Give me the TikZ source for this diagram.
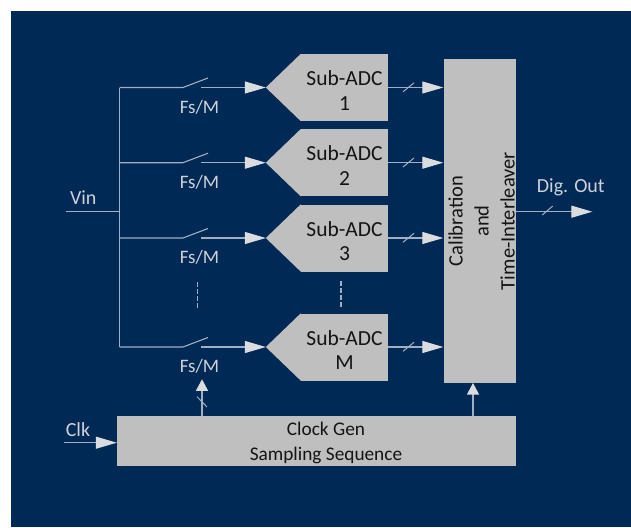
\documentclass[tikz,border=0pt]{standalone}
\usepackage{fontspec}
\setmainfont{Carlito}
\usetikzlibrary{arrows.meta}
\definecolor{navy}{RGB}{1,41,85}
\definecolor{boxgrey}{RGB}{191,191,191}
\definecolor{wirec}{RGB}{160,175,196}
\definecolor{headc}{RGB}{218,220,224}
\definecolor{lblc}{RGB}{205,210,218}
\definecolor{boxtext}{RGB}{20,20,20}
\begin{document}
\begin{tikzpicture}[x=1pt,y=-1pt,
  wire/.style={draw=wirec,line width=1.1pt},
  harrow/.style={wire,-{Triangle[length=21pt,width=12pt,color=headc]}},
  varrow/.style={wire,-{Triangle[length=11.5pt,width=12pt,color=headc]}},
  slash/.style={draw=wirec,line width=1pt},
  dashv/.style={draw=wirec,line width=1.1pt,dash pattern=on 4.5pt off 2.5pt},
  lbl/.style={text=lblc,inner sep=0pt,font=\fontsize{20}{24}\selectfont},
  greybox/.style={fill=boxgrey,draw=none,inner sep=0pt},
  boxlbl/.style={text=boxtext,inner sep=0pt,align=center},
]
\useasboundingbox (0,0) rectangle (631,527);
\fill[navy] (11,11) rectangle (631,527);

% calibration block
\node[greybox,minimum width=72pt,minimum height=324pt] (cal) at (479.5,221) {};
\node[boxlbl,rotate=90,font=\fontsize{20.5}{26}\selectfont] (caltext) at (481.5,221) {Calibration\\and\\Time-Interleaver};

% clock generator
\node[greybox,minimum width=399pt,minimum height=50pt] (clk) at (316.5,441) {};
\node[boxlbl,font=\fontsize{19.3}{25}\selectfont] (clktext) at (326,443.4) {Clock Gen\\Sampling Sequence};

% sub-ADC rows
\foreach \i/\y in {1/87.5,2/162.7,3/238,M/347}{
  \node[greybox,minimum width=87pt,minimum height=67pt] (adc\i) at (344.5,\y) {};
  \fill[boxgrey] (adc\i.north west) -- ([xshift=-35pt]adc\i.west) -- (adc\i.south west) -- cycle;
  \node[boxlbl,font=\fontsize{21.5}{24.5}\selectfont] (adctext\i) at (344.5,\y+3) {Sub-ADC\\\i};
  \coordinate (tip\i) at ([xshift=-35pt]adc\i.west);
  \coordinate (bus\i) at (119.5,\y);
  \coordinate (swa\i) at (183,\y);
  \coordinate (swb\i) at (208,\y-9.5);
  \coordinate (swc\i) at (201,\y);
  \draw[wire] (bus\i) -- (swa\i) -- (swb\i);
  \draw[harrow] (swc\i) -- (tip\i);
  \node[lbl,anchor=base,font=\fontsize{19}{23}\selectfont] (fs\i) at (199.5,\y+25.7) {Fs/M};
  \draw[harrow] (adc\i.east) -- (adc\i.east -| cal.west);
  \coordinate (sl\i a) at (403,\y+4.3);
  \coordinate (sl\i b) at (414,\y-4.7);
  \draw[slash] (sl\i a) -- (sl\i b);
}

% input bus
\draw[wire] (bus1) -- (busM);
\coordinate (vin) at (66,211.7);
\draw[wire] (vin) -- (vin -| bus1);
\node[lbl,anchor=base] (vinlbl) at (83.3,204) {Vin};

% dots
\coordinate (d1a) at (197.7,282);
\coordinate (d1b) at (197.7,308);
\coordinate (d2a) at (341,281);
\coordinate (d2b) at (341,307);
\draw[dashv] (d1a) -- (d1b);
\draw[dashv] (d2a) -- (d2b);

% digital output
\coordinate (dout) at (592.3,211.7);
\draw[harrow] (dout -| cal.east) -- (dout);
\coordinate (dsa) at (542.3,215);
\coordinate (dsb) at (552.7,206);
\draw[slash] (dsa) -- (dsb);
\node[lbl,anchor=base] (doutlbl) at (570.8,192.7) {Dig. Out};

% clock input
\coordinate (clkin) at (64,442.7);
\draw[harrow] (clkin) -- (clkin -| clk.west);
\node[lbl,anchor=base] (clklbl) at (78,436) {Clk};

% clock to switches
\coordinate (fsup) at (202,379.3);
\draw[varrow] (fsup |- clk.north) -- (fsup);
\coordinate (csa) at (197,396.7);
\coordinate (csb) at (207,407);
\draw[slash] (csa) -- (csb);

% clock to calibration
\coordinate (calin) at (473,383);
\draw[varrow] (calin |- clk.north) -- (calin);
\end{tikzpicture}
\end{document}
